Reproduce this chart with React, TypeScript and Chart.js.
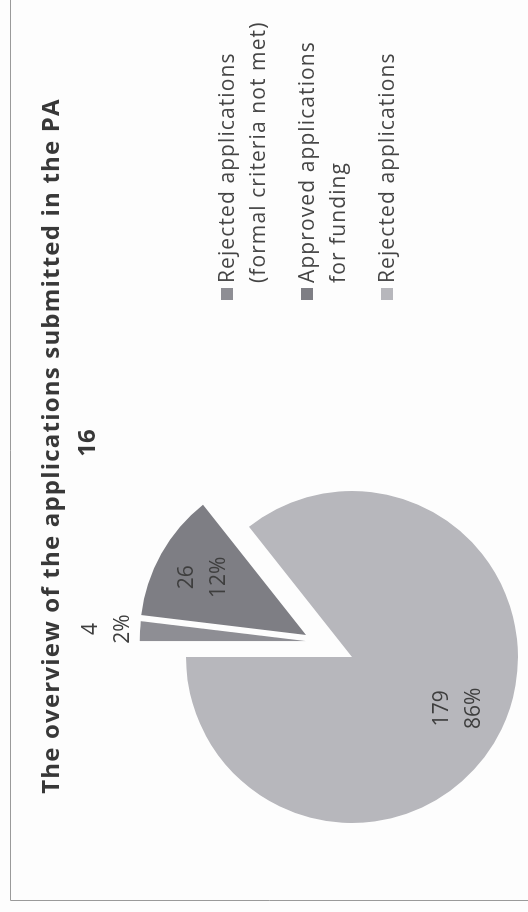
import React, { useEffect, useRef } from "react";
import { Chart, ArcElement, PieController } from "chart.js";

Chart.register(ArcElement, PieController);

// ---- data ----
const categories = [
  "Rejected applications (formal criteria not met)",
  "Approved applications for funding",
  "Rejected applications",
];
const legendLines = [
  ["Rejected applications", "(formal criteria not met)"],
  ["Approved applications", "for funding"],
  ["Rejected applications"],
];
const values = [4, 26, 179];
const titleLines = ["The overview of the applications submitted in the PA", "16"];

// ---- style ----
const sliceColors = ["#8e8e94", "#7e7e84", "#b7b7bc"];
// explosion (degrees clockwise from 12 o'clock, distance px) per slice
const explode = [
  { angle: 19, dist: 49 },
  { angle: 25.6, dist: 51 },
  null,
];
const FONT = "'Open Sans', 'Noto Sans', sans-serif";
const W = 912;
const H = 528;

const decorPlugin = {
  id: "decor",
  beforeDraw(chart: any) {
    const ctx = chart.ctx;
    ctx.save();
    ctx.fillStyle = "#fdfdfd";
    ctx.fillRect(0, 0, chart.width, chart.height);
    ctx.strokeStyle = "#9a9a9a";
    ctx.lineWidth = 1;
    ctx.beginPath();
    ctx.moveTo(11.5, chart.height);
    ctx.lineTo(11.5, 10.5);
    ctx.lineTo(chart.width, 10.5);
    ctx.stroke();
    ctx.restore();
  },
  beforeDatasetsDraw(chart: any) {
    const meta = chart.getDatasetMeta(0);
    const ca = chart.chartArea;
    const cx = (ca.left + ca.right) / 2;
    const cy = (ca.top + ca.bottom) / 2;
    meta.data.forEach((arc: any, i: number) => {
      const ex = explode[i];
      arc.x = cx;
      arc.y = cy;
      if (!ex) return;
      const a = (ex.angle * Math.PI) / 180;
      arc.x = cx + ex.dist * Math.sin(a);
      arc.y = cy - ex.dist * Math.cos(a);
    });
  },
  afterDatasetsDraw(chart: any) {
    const ctx = chart.ctx;
    const meta = chart.getDatasetMeta(0);
    const data: number[] = chart.data.datasets[0].data;
    const total = data.reduce((s, v) => s + v, 0);
    ctx.save();
    ctx.textAlign = "center";
    ctx.textBaseline = "middle";
    ctx.fillStyle = "#3e3e3e";
    ctx.font = `21px ${FONT}`;
    meta.data.forEach((arc: any, i: number) => {
      const pct = (data[i] / total) * 100;
      const mid = (arc.startAngle + arc.endAngle) / 2;
      const f = pct < 5 ? 1.2 : 0.71;
      const r = arc.outerRadius * f;
      const x = arc.x + Math.cos(mid) * r;
      const y = arc.y + Math.sin(mid) * r;
      ctx.fillText(String(data[i]), x, y - 16);
      ctx.fillText(`${Math.round(pct)}%`, x, y + 16);
    });
    ctx.restore();

    // title
    ctx.save();
    ctx.fillStyle = "#383838";
    ctx.textAlign = "center";
    ctx.textBaseline = "alphabetic";
    ctx.font = `bold 24px ${FONT}`;
    (ctx as any).letterSpacing = "1.2px";
    ctx.fillText(titleLines[0], 466, 59);
    (ctx as any).letterSpacing = "0px";
    ctx.fillText(titleLines[1], 469, 95);
    ctx.restore();

    // legend
    ctx.save();
    ctx.textAlign = "left";
    ctx.textBaseline = "alphabetic";
    ctx.font = `21px ${FONT}`;
    (ctx as any).letterSpacing = "1.1px";
    const colors: string[] = chart.data.datasets[0].backgroundColor;
    let base = 234;
    legendLines.forEach((lines, i) => {
      ctx.fillStyle = colors[i];
      ctx.fillRect(612, base - 13, 12, 12);
      ctx.fillStyle = "#454545";
      lines.forEach((t, j) => {
        ctx.fillText(t, 629, base + j * 31);
      });
      base += 80;
    });
    ctx.restore();
  },
};

export default function App() {
  const ref = useRef<HTMLCanvasElement | null>(null);
  useEffect(() => {
    let chart: Chart | null = null;
    let cancelled = false;
    const make = () => {
      if (cancelled || !ref.current) return;
      chart = new Chart(ref.current, {
        type: "pie",
        data: {
          labels: categories,
          datasets: [
            {
              data: values,
              backgroundColor: sliceColors,
              borderWidth: 0,
            },
          ],
        },
        options: {
          responsive: false,
          animation: false,
          radius: 166,
          layout: { padding: { left: 90, right: 492, top: 187, bottom: 11 } },
          plugins: {
            legend: { display: false },
            tooltip: { enabled: false },
          },
          events: [],
        } as any,
        plugins: [decorPlugin],
      });
    };
    const fonts: any = (document as any).fonts;
    if (fonts && fonts.load) {
      Promise.all([fonts.load(`bold 24px 'Open Sans'`), fonts.load(`21px 'Open Sans'`)])
        .catch(() => null)
        .then(make);
    } else make();
    return () => {
      cancelled = true;
      if (chart) chart.destroy();
    };
  }, []);

  return (
    <div
      style={{
        position: "fixed",
        left: 0,
        top: 0,
        width: 528,
        height: 912,
        overflow: "hidden",
        background: "#fdfdfd",
      }}
    >
      <div
        style={{
          position: "absolute",
          left: 0,
          top: 0,
          width: W,
          height: H,
          transformOrigin: "0 0",
          transform: `translateY(${W}px) rotate(-90deg)`,
        }}
      >
        <canvas ref={ref} width={W} height={H} style={{ width: W, height: H, display: "block" }} />
      </div>
    </div>
  );
}
